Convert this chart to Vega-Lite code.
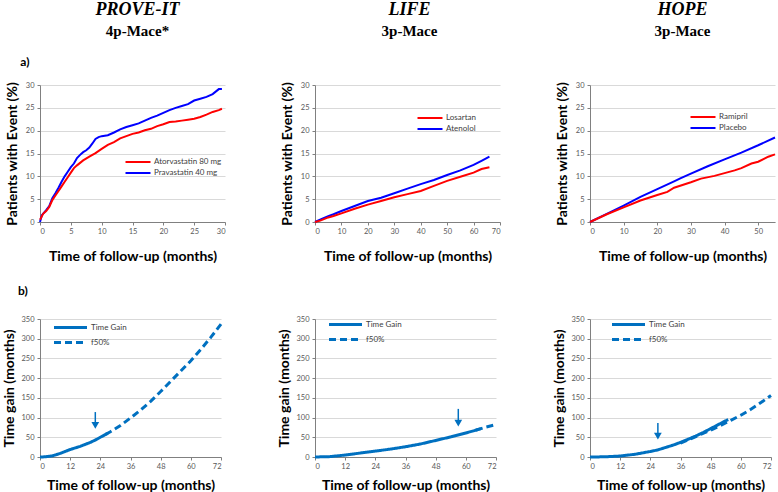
{
  "$schema": "https://vega.github.io/schema/vega-lite/v6.json",
  "padding": {"top": 1, "left": 2, "right": 0, "bottom": 0},
  "background": "white",
  "config": {
    "view": {"stroke": null},
    "font": "Lato",
    "axis": {
      "labelFont": "Lato", "labelFontSize": 7.5, "labelColor": "#595959", "labelOverlap": false,
      "domainColor": "#808080", "tickColor": "#808080", "tickSize": 3,
      "gridColor": "#d9d9d9", "titleFont": "Lato", "titleFontWeight": "bold",
      "titleFontSize": 14, "titleColor": "#000000"
    },
    "axisX": {"grid": false, "labelPadding": 2, "titlePadding": 9},
    "axisY": {"grid": true, "labelPadding": 3, "titlePadding": 6, "domain": true},
    "legend": {"padding": 0, "labelFont": "Lato", "labelFontSize": 8, "labelColor": "#404040", "title": null, "symbolSize": 100},
    "concat": {"spacing": 10}
  },
  "columns": 1,
  "align": "none",
  "spacing": 21,
  "concat": [
    {
      "columns": 1,
      "align": "none",
      "spacing": 12,
      "concat": [
        {
          "spacing": 87,
          "hconcat": [
            {"width": 185, "height": 1, "data": {"values": []}, "mark": "point",
             "title": {"text": "PROVE-IT", "subtitle": "4p-Mace*", "font": "Liberation Serif", "fontSize": 18, "fontWeight": "bold", "fontStyle": "italic", "subtitleFont": "Liberation Serif", "subtitleFontSize": 15, "subtitleFontWeight": "bold", "subtitleColor": "#000000", "subtitlePadding": 5, "anchor": "middle", "dx": 5}},
            {"width": 185, "height": 1, "data": {"values": []}, "mark": "point",
             "title": {"text": "LIFE", "subtitle": "3p-Mace", "font": "Liberation Serif", "fontSize": 18, "fontWeight": "bold", "fontStyle": "italic", "subtitleFont": "Liberation Serif", "subtitleFontSize": 15, "subtitleFontWeight": "bold", "subtitleColor": "#000000", "subtitlePadding": 5, "anchor": "middle", "dx": 5}},
            {"width": 185, "height": 1, "data": {"values": []}, "mark": "point",
             "title": {"text": "HOPE", "subtitle": "3p-Mace", "font": "Liberation Serif", "fontSize": 18, "fontWeight": "bold", "fontStyle": "italic", "subtitleFont": "Liberation Serif", "subtitleFontSize": 15, "subtitleFontWeight": "bold", "subtitleColor": "#000000", "subtitlePadding": 5, "anchor": "middle", "dx": 6}}
          ]
        },
        {
          "title": {"text": "a)", "anchor": "start", "font": "Lato", "fontSize": 12, "fontWeight": "bold", "dx": 15, "offset": 12},
          "spacing": 54,
          "resolve": {"scale": {"color": "independent", "x": "independent", "y": "independent"}, "legend": {"color": "independent"}},
          "hconcat": [
            {
              "width": 185, "height": 137,
              "data": {"values": [
                {"t": 0, "p": 0, "arm": "Pravastatin 40 mg"}, {"t": 0.3, "p": 1.5, "arm": "Pravastatin 40 mg"}, {"t": 1, "p": 2.6, "arm": "Pravastatin 40 mg"}, {"t": 1.5, "p": 3.5, "arm": "Pravastatin 40 mg"}, {"t": 2, "p": 5.2, "arm": "Pravastatin 40 mg"}, {"t": 2.5, "p": 6.3, "arm": "Pravastatin 40 mg"}, {"t": 3, "p": 7.5, "arm": "Pravastatin 40 mg"}, {"t": 3.5, "p": 8.8, "arm": "Pravastatin 40 mg"}, {"t": 4, "p": 10, "arm": "Pravastatin 40 mg"}, {"t": 4.5, "p": 11, "arm": "Pravastatin 40 mg"}, {"t": 5, "p": 12, "arm": "Pravastatin 40 mg"}, {"t": 5.5, "p": 12.8, "arm": "Pravastatin 40 mg"}, {"t": 6, "p": 14, "arm": "Pravastatin 40 mg"}, {"t": 6.5, "p": 14.7, "arm": "Pravastatin 40 mg"}, {"t": 7, "p": 15.3, "arm": "Pravastatin 40 mg"}, {"t": 7.5, "p": 15.7, "arm": "Pravastatin 40 mg"}, {"t": 8, "p": 16.3, "arm": "Pravastatin 40 mg"}, {"t": 8.5, "p": 17.2, "arm": "Pravastatin 40 mg"}, {"t": 9, "p": 18.2, "arm": "Pravastatin 40 mg"}, {"t": 9.5, "p": 18.6, "arm": "Pravastatin 40 mg"}, {"t": 10, "p": 18.8, "arm": "Pravastatin 40 mg"}, {"t": 11, "p": 19, "arm": "Pravastatin 40 mg"}, {"t": 12, "p": 19.6, "arm": "Pravastatin 40 mg"}, {"t": 13, "p": 20.3, "arm": "Pravastatin 40 mg"}, {"t": 14, "p": 20.8, "arm": "Pravastatin 40 mg"}, {"t": 15, "p": 21.2, "arm": "Pravastatin 40 mg"}, {"t": 16, "p": 21.6, "arm": "Pravastatin 40 mg"}, {"t": 17, "p": 22.2, "arm": "Pravastatin 40 mg"}, {"t": 18, "p": 22.8, "arm": "Pravastatin 40 mg"}, {"t": 19, "p": 23.3, "arm": "Pravastatin 40 mg"}, {"t": 20, "p": 23.9, "arm": "Pravastatin 40 mg"}, {"t": 21, "p": 24.5, "arm": "Pravastatin 40 mg"}, {"t": 22, "p": 25, "arm": "Pravastatin 40 mg"}, {"t": 23, "p": 25.4, "arm": "Pravastatin 40 mg"}, {"t": 24, "p": 25.8, "arm": "Pravastatin 40 mg"}, {"t": 25, "p": 26.6, "arm": "Pravastatin 40 mg"}, {"t": 26, "p": 27, "arm": "Pravastatin 40 mg"}, {"t": 27, "p": 27.4, "arm": "Pravastatin 40 mg"}, {"t": 28, "p": 28, "arm": "Pravastatin 40 mg"}, {"t": 29, "p": 29.1, "arm": "Pravastatin 40 mg"}, {"t": 29.5, "p": 29.1, "arm": "Pravastatin 40 mg"},
                {"t": 0, "p": 0.5, "arm": "Atorvastatin 80 mg"}, {"t": 0.5, "p": 1.8, "arm": "Atorvastatin 80 mg"}, {"t": 1, "p": 2.4, "arm": "Atorvastatin 80 mg"}, {"t": 1.5, "p": 3.3, "arm": "Atorvastatin 80 mg"}, {"t": 2, "p": 4.8, "arm": "Atorvastatin 80 mg"}, {"t": 2.5, "p": 5.8, "arm": "Atorvastatin 80 mg"}, {"t": 3, "p": 6.8, "arm": "Atorvastatin 80 mg"}, {"t": 3.5, "p": 7.8, "arm": "Atorvastatin 80 mg"}, {"t": 4, "p": 8.8, "arm": "Atorvastatin 80 mg"}, {"t": 4.5, "p": 9.8, "arm": "Atorvastatin 80 mg"}, {"t": 5, "p": 10.8, "arm": "Atorvastatin 80 mg"}, {"t": 5.5, "p": 11.8, "arm": "Atorvastatin 80 mg"}, {"t": 6, "p": 12.4, "arm": "Atorvastatin 80 mg"}, {"t": 7, "p": 13.5, "arm": "Atorvastatin 80 mg"}, {"t": 8, "p": 14.3, "arm": "Atorvastatin 80 mg"}, {"t": 9, "p": 15.1, "arm": "Atorvastatin 80 mg"}, {"t": 10, "p": 16, "arm": "Atorvastatin 80 mg"}, {"t": 11, "p": 16.9, "arm": "Atorvastatin 80 mg"}, {"t": 12, "p": 17.5, "arm": "Atorvastatin 80 mg"}, {"t": 13, "p": 18.3, "arm": "Atorvastatin 80 mg"}, {"t": 14, "p": 18.8, "arm": "Atorvastatin 80 mg"}, {"t": 15, "p": 19.3, "arm": "Atorvastatin 80 mg"}, {"t": 16, "p": 19.6, "arm": "Atorvastatin 80 mg"}, {"t": 17, "p": 20.1, "arm": "Atorvastatin 80 mg"}, {"t": 18, "p": 20.4, "arm": "Atorvastatin 80 mg"}, {"t": 19, "p": 21, "arm": "Atorvastatin 80 mg"}, {"t": 20, "p": 21.4, "arm": "Atorvastatin 80 mg"}, {"t": 21, "p": 21.9, "arm": "Atorvastatin 80 mg"}, {"t": 22, "p": 22, "arm": "Atorvastatin 80 mg"}, {"t": 23, "p": 22.2, "arm": "Atorvastatin 80 mg"}, {"t": 24, "p": 22.4, "arm": "Atorvastatin 80 mg"}, {"t": 25, "p": 22.6, "arm": "Atorvastatin 80 mg"}, {"t": 26, "p": 23, "arm": "Atorvastatin 80 mg"}, {"t": 27, "p": 23.5, "arm": "Atorvastatin 80 mg"}, {"t": 28, "p": 24.1, "arm": "Atorvastatin 80 mg"}, {"t": 29, "p": 24.5, "arm": "Atorvastatin 80 mg"}, {"t": 29.5, "p": 24.8, "arm": "Atorvastatin 80 mg"}
              ]},
              "mark": {"type": "line", "strokeWidth": 2},
              "encoding": {
                "x": {"field": "t", "type": "quantitative", "scale": {"domain": [0, 30], "nice": false}, "axis": {"values": [0, 5, 10, 15, 20, 25, 30], "title": "Time of follow-up (months)", "titlePadding": 15}},
                "y": {"field": "p", "type": "quantitative", "scale": {"domain": [0, 30], "nice": false}, "axis": {"values": [0, 5, 10, 15, 20, 25, 30], "title": "Patients with Event (%)"}},
                "color": {"field": "arm", "type": "nominal", "scale": {"domain": ["Atorvastatin 80 mg", "Pravastatin 40 mg"], "range": ["#ff0000", "#0000ff"]},
                  "legend": {"orient": "none", "legendX": 92, "legendY": 71, "symbolType": "M-2.5,0H2.5", "symbolStrokeWidth": 2, "rowPadding": 1, "labelOffset": 10}}
              }
            },
            {
              "width": 185, "height": 137,
              "data": {"values": [
                {"t": 0, "p": 0, "arm": "Atenolol"}, {"t": 3, "p": 0.8, "arm": "Atenolol"}, {"t": 5, "p": 1.3, "arm": "Atenolol"}, {"t": 7, "p": 1.7, "arm": "Atenolol"}, {"t": 10, "p": 2.4, "arm": "Atenolol"}, {"t": 15, "p": 3.5, "arm": "Atenolol"}, {"t": 20, "p": 4.6, "arm": "Atenolol"}, {"t": 25, "p": 5.3, "arm": "Atenolol"}, {"t": 30, "p": 6.3, "arm": "Atenolol"}, {"t": 35, "p": 7.3, "arm": "Atenolol"}, {"t": 40, "p": 8.3, "arm": "Atenolol"}, {"t": 45, "p": 9.2, "arm": "Atenolol"}, {"t": 50, "p": 10.3, "arm": "Atenolol"}, {"t": 55, "p": 11.3, "arm": "Atenolol"}, {"t": 60, "p": 12.5, "arm": "Atenolol"}, {"t": 63, "p": 13.4, "arm": "Atenolol"}, {"t": 66, "p": 14.3, "arm": "Atenolol"},
                {"t": 0, "p": 0, "arm": "Losartan"}, {"t": 2, "p": 0.3, "arm": "Losartan"}, {"t": 5, "p": 1, "arm": "Losartan"}, {"t": 7, "p": 1.3, "arm": "Losartan"}, {"t": 10, "p": 1.9, "arm": "Losartan"}, {"t": 15, "p": 2.9, "arm": "Losartan"}, {"t": 20, "p": 3.8, "arm": "Losartan"}, {"t": 25, "p": 4.6, "arm": "Losartan"}, {"t": 30, "p": 5.4, "arm": "Losartan"}, {"t": 35, "p": 6.1, "arm": "Losartan"}, {"t": 40, "p": 6.8, "arm": "Losartan"}, {"t": 45, "p": 7.9, "arm": "Losartan"}, {"t": 50, "p": 9, "arm": "Losartan"}, {"t": 55, "p": 9.9, "arm": "Losartan"}, {"t": 60, "p": 10.8, "arm": "Losartan"}, {"t": 63, "p": 11.6, "arm": "Losartan"}, {"t": 66, "p": 12, "arm": "Losartan"}
              ]},
              "mark": {"type": "line", "strokeWidth": 2},
              "encoding": {
                "x": {"field": "t", "type": "quantitative", "scale": {"domain": [0, 70], "nice": false}, "axis": {"values": [0, 10, 20, 30, 40, 50, 60, 70], "title": "Time of follow-up (months)", "titlePadding": 15}},
                "y": {"field": "p", "type": "quantitative", "scale": {"domain": [0, 30], "nice": false}, "axis": {"values": [0, 5, 10, 15, 20, 25, 30], "title": "Patients with Event (%)"}},
                "color": {"field": "arm", "type": "nominal", "scale": {"domain": ["Losartan", "Atenolol"], "range": ["#ff0000", "#0000ff"]},
                  "legend": {"orient": "none", "legendX": 109, "legendY": 27, "symbolType": "M-2.5,0H2.5", "symbolStrokeWidth": 2, "rowPadding": 1, "labelOffset": 10}}
              }
            },
            {
              "width": 185, "height": 137,
              "data": {"values": [
                {"t": 0, "p": 0, "arm": "Placebo"}, {"t": 5, "p": 1.8, "arm": "Placebo"}, {"t": 10, "p": 3.6, "arm": "Placebo"}, {"t": 15, "p": 5.5, "arm": "Placebo"}, {"t": 20, "p": 7.2, "arm": "Placebo"}, {"t": 25, "p": 8.9, "arm": "Placebo"}, {"t": 27, "p": 9.6, "arm": "Placebo"}, {"t": 30, "p": 10.6, "arm": "Placebo"}, {"t": 35, "p": 12.2, "arm": "Placebo"}, {"t": 40, "p": 13.7, "arm": "Placebo"}, {"t": 45, "p": 15.2, "arm": "Placebo"}, {"t": 50, "p": 16.8, "arm": "Placebo"}, {"t": 55, "p": 18.5, "arm": "Placebo"},
                {"t": 0, "p": 0, "arm": "Ramipril"}, {"t": 5, "p": 1.7, "arm": "Ramipril"}, {"t": 10, "p": 3.2, "arm": "Ramipril"}, {"t": 15, "p": 4.7, "arm": "Ramipril"}, {"t": 20, "p": 5.9, "arm": "Ramipril"}, {"t": 23, "p": 6.6, "arm": "Ramipril"}, {"t": 25, "p": 7.5, "arm": "Ramipril"}, {"t": 30, "p": 8.7, "arm": "Ramipril"}, {"t": 33, "p": 9.5, "arm": "Ramipril"}, {"t": 37, "p": 10.1, "arm": "Ramipril"}, {"t": 40, "p": 10.7, "arm": "Ramipril"}, {"t": 43, "p": 11.3, "arm": "Ramipril"}, {"t": 45, "p": 11.8, "arm": "Ramipril"}, {"t": 48, "p": 12.8, "arm": "Ramipril"}, {"t": 50, "p": 13.2, "arm": "Ramipril"}, {"t": 53, "p": 14.3, "arm": "Ramipril"}, {"t": 55, "p": 14.8, "arm": "Ramipril"}
              ]},
              "mark": {"type": "line", "strokeWidth": 2},
              "encoding": {
                "x": {"field": "t", "type": "quantitative", "scale": {"domain": [0, 55], "nice": false}, "axis": {"values": [0, 10, 20, 30, 40, 50], "title": "Time of follow-up (months)", "titlePadding": 15}},
                "y": {"field": "p", "type": "quantitative", "scale": {"domain": [0, 30], "nice": false}, "axis": {"values": [0, 5, 10, 15, 20, 25, 30], "title": "Patients with Event (%)"}},
                "color": {"field": "arm", "type": "nominal", "scale": {"domain": ["Ramipril", "Placebo"], "range": ["#ff0000", "#0000ff"]},
                  "legend": {"orient": "none", "legendX": 107, "legendY": 26, "symbolType": "M-2.5,0H2.5", "symbolStrokeWidth": 2, "rowPadding": 1, "labelOffset": 10}}
              }
            }
          ]
        }
      ]
    },
    {
      "title": {"text": "b)", "anchor": "start", "font": "Lato", "fontSize": 12, "fontWeight": "bold", "dx": 15, "offset": 17},
      "spacing": 50,
      "resolve": {"scale": {"strokeDash": "independent", "x": "independent", "y": "independent"}, "legend": {"strokeDash": "independent"}},
      "hconcat": [
        {
          "width": 181, "height": 138,
          "encoding": {
            "x": {"field": "t", "type": "quantitative", "scale": {"domain": [0, 72], "nice": false}, "axis": {"values": [0, 12, 24, 36, 48, 60, 72], "title": "Time of follow-up (months)", "labelOverlap": false}},
            "y": {"field": "g", "type": "quantitative", "scale": {"domain": [0, 350], "nice": false}, "axis": {"values": [0, 50, 100, 150, 200, 250, 300, 350], "title": "Time gain (months)", "labelOverlap": false, "titlePadding": 4}}
          },
          "layer": [
            {
              "data": {"values": [
                {"t": 0, "g": 0, "s": "Time Gain"}, {"t": 2, "g": 0.5, "s": "Time Gain"}, {"t": 4, "g": 2, "s": "Time Gain"}, {"t": 5, "g": 3, "s": "Time Gain"}, {"t": 6, "g": 5, "s": "Time Gain"}, {"t": 8, "g": 9, "s": "Time Gain"}, {"t": 10, "g": 14, "s": "Time Gain"}, {"t": 12, "g": 19, "s": "Time Gain"}, {"t": 14, "g": 23, "s": "Time Gain"}, {"t": 16, "g": 27, "s": "Time Gain"}, {"t": 18, "g": 32, "s": "Time Gain"}, {"t": 20, "g": 37, "s": "Time Gain"}, {"t": 22, "g": 43, "s": "Time Gain"}, {"t": 24, "g": 50, "s": "Time Gain"}, {"t": 26, "g": 57, "s": "Time Gain"}, {"t": 27, "g": 60, "s": "Time Gain"},
                {"t": 26, "g": 57, "s": "f50%"}, {"t": 28, "g": 64, "s": "f50%"}, {"t": 32, "g": 80, "s": "f50%"}, {"t": 36, "g": 99, "s": "f50%"}, {"t": 40, "g": 119, "s": "f50%"}, {"t": 44, "g": 141, "s": "f50%"}, {"t": 48, "g": 166, "s": "f50%"}, {"t": 52, "g": 192, "s": "f50%"}, {"t": 56, "g": 218, "s": "f50%"}, {"t": 60, "g": 244, "s": "f50%"}, {"t": 64, "g": 273, "s": "f50%"}, {"t": 68, "g": 304, "s": "f50%"}, {"t": 72, "g": 337, "s": "f50%"}
              ]},
              "mark": {"type": "line", "strokeWidth": 3, "color": "#0070c0"},
              "encoding": {
                "strokeDash": {"field": "s", "type": "nominal", "scale": {"domain": ["Time Gain", "f50%"], "range": [[1, 0], [7, 4]]},
                  "legend": {"orient": "none", "legendX": 24, "legendY": 2, "symbolType": "M-3.3,0H3.3", "symbolStrokeWidth": 3, "symbolStrokeColor": "#0070c0", "rowPadding": 2, "labelOffset": 14}}
              }
            },
            {
              "data": {"values": [{"t": 22, "g": 114, "g2": 82}]},
              "mark": {"type": "rule", "color": "#0070c0", "strokeWidth": 1.5},
              "encoding": {"y2": {"field": "g2"}}
            },
            {
              "data": {"values": [{"t": 22, "g": 80}]},
              "mark": {"type": "point", "shape": "triangle-down", "filled": true, "color": "#0070c0", "size": 60, "opacity": 1}
            }
          ]
        },
        {
          "width": 181, "height": 138,
          "encoding": {
            "x": {"field": "t", "type": "quantitative", "scale": {"domain": [0, 72], "nice": false}, "axis": {"values": [0, 12, 24, 36, 48, 60, 72], "title": "Time of follow-up (months)", "labelOverlap": false}},
            "y": {"field": "g", "type": "quantitative", "scale": {"domain": [0, 350], "nice": false}, "axis": {"values": [0, 50, 100, 150, 200, 250, 300, 350], "title": "Time gain (months)", "labelOverlap": false, "titlePadding": 4}}
          },
          "layer": [
            {
              "data": {"values": [
                {"t": 0, "g": 0, "s": "Time Gain"}, {"t": 6, "g": 1, "s": "Time Gain"}, {"t": 12, "g": 5, "s": "Time Gain"}, {"t": 18, "g": 10, "s": "Time Gain"}, {"t": 24, "g": 15, "s": "Time Gain"}, {"t": 30, "g": 20, "s": "Time Gain"}, {"t": 36, "g": 26, "s": "Time Gain"}, {"t": 42, "g": 33, "s": "Time Gain"}, {"t": 48, "g": 42, "s": "Time Gain"}, {"t": 54, "g": 51, "s": "Time Gain"}, {"t": 60, "g": 61, "s": "Time Gain"}, {"t": 64, "g": 68, "s": "Time Gain"}, {"t": 66, "g": 72, "s": "Time Gain"},
                {"t": 64, "g": 68, "s": "f50%"}, {"t": 68, "g": 76, "s": "f50%"}, {"t": 72, "g": 82, "s": "f50%"}
              ]},
              "mark": {"type": "line", "strokeWidth": 3, "color": "#0070c0"},
              "encoding": {
                "strokeDash": {"field": "s", "type": "nominal", "scale": {"domain": ["Time Gain", "f50%"], "range": [[1, 0], [7, 4]]},
                  "legend": {"orient": "none", "legendX": 24, "legendY": -1, "symbolType": "M-3.3,0H3.3", "symbolStrokeWidth": 3, "symbolStrokeColor": "#0070c0", "rowPadding": 2, "labelOffset": 14}}
              }
            },
            {
              "data": {"values": [{"t": 57, "g": 122, "g2": 88}]},
              "mark": {"type": "rule", "color": "#0070c0", "strokeWidth": 1.5},
              "encoding": {"y2": {"field": "g2"}}
            },
            {
              "data": {"values": [{"t": 57, "g": 86}]},
              "mark": {"type": "point", "shape": "triangle-down", "filled": true, "color": "#0070c0", "size": 60, "opacity": 1}
            }
          ]
        },
        {
          "width": 181, "height": 138,
          "encoding": {
            "x": {"field": "t", "type": "quantitative", "scale": {"domain": [0, 72], "nice": false}, "axis": {"values": [0, 12, 24, 36, 48, 60, 72], "title": "Time of follow-up (months)", "labelOverlap": false}},
            "y": {"field": "g", "type": "quantitative", "scale": {"domain": [0, 350], "nice": false}, "axis": {"values": [0, 50, 100, 150, 200, 250, 300, 350], "title": "Time gain (months)", "labelOverlap": false, "titlePadding": 4}}
          },
          "layer": [
            {
              "data": {"values": [
                {"t": 0, "g": 0, "s": "Time Gain"}, {"t": 6, "g": 0.5, "s": "Time Gain"}, {"t": 12, "g": 2.5, "s": "Time Gain"}, {"t": 18, "g": 7, "s": "Time Gain"}, {"t": 24, "g": 14, "s": "Time Gain"}, {"t": 27, "g": 18, "s": "Time Gain"}, {"t": 30, "g": 24, "s": "Time Gain"}, {"t": 33, "g": 30, "s": "Time Gain"}, {"t": 36, "g": 37, "s": "Time Gain"}, {"t": 39, "g": 45, "s": "Time Gain"}, {"t": 42, "g": 53, "s": "Time Gain"}, {"t": 45, "g": 62, "s": "Time Gain"}, {"t": 48, "g": 72, "s": "Time Gain"}, {"t": 51, "g": 82, "s": "Time Gain"}, {"t": 54, "g": 92, "s": "Time Gain"}, {"t": 55, "g": 95, "s": "Time Gain"},
                {"t": 36, "g": 35, "s": "f50%"}, {"t": 40, "g": 46, "s": "f50%"}, {"t": 44, "g": 57, "s": "f50%"}, {"t": 48, "g": 68, "s": "f50%"}, {"t": 52, "g": 80, "s": "f50%"}, {"t": 56, "g": 93, "s": "f50%"}, {"t": 60, "g": 106, "s": "f50%"}, {"t": 64, "g": 121, "s": "f50%"}, {"t": 68, "g": 138, "s": "f50%"}, {"t": 72, "g": 156, "s": "f50%"}
              ]},
              "mark": {"type": "line", "strokeWidth": 3, "color": "#0070c0"},
              "encoding": {
                "strokeDash": {"field": "s", "type": "nominal", "scale": {"domain": ["Time Gain", "f50%"], "range": [[1, 0], [7, 4]]},
                  "legend": {"orient": "none", "legendX": 32, "legendY": -1, "symbolType": "M-3.3,0H3.3", "symbolStrokeWidth": 3, "symbolStrokeColor": "#0070c0", "rowPadding": 2, "labelOffset": 14}}
              }
            },
            {
              "data": {"values": [{"t": 27, "g": 86, "g2": 55}]},
              "mark": {"type": "rule", "color": "#0070c0", "strokeWidth": 1.5},
              "encoding": {"y2": {"field": "g2"}}
            },
            {
              "data": {"values": [{"t": 27, "g": 53}]},
              "mark": {"type": "point", "shape": "triangle-down", "filled": true, "color": "#0070c0", "size": 60, "opacity": 1}
            }
          ]
        }
      ]
    }
  ]
}
